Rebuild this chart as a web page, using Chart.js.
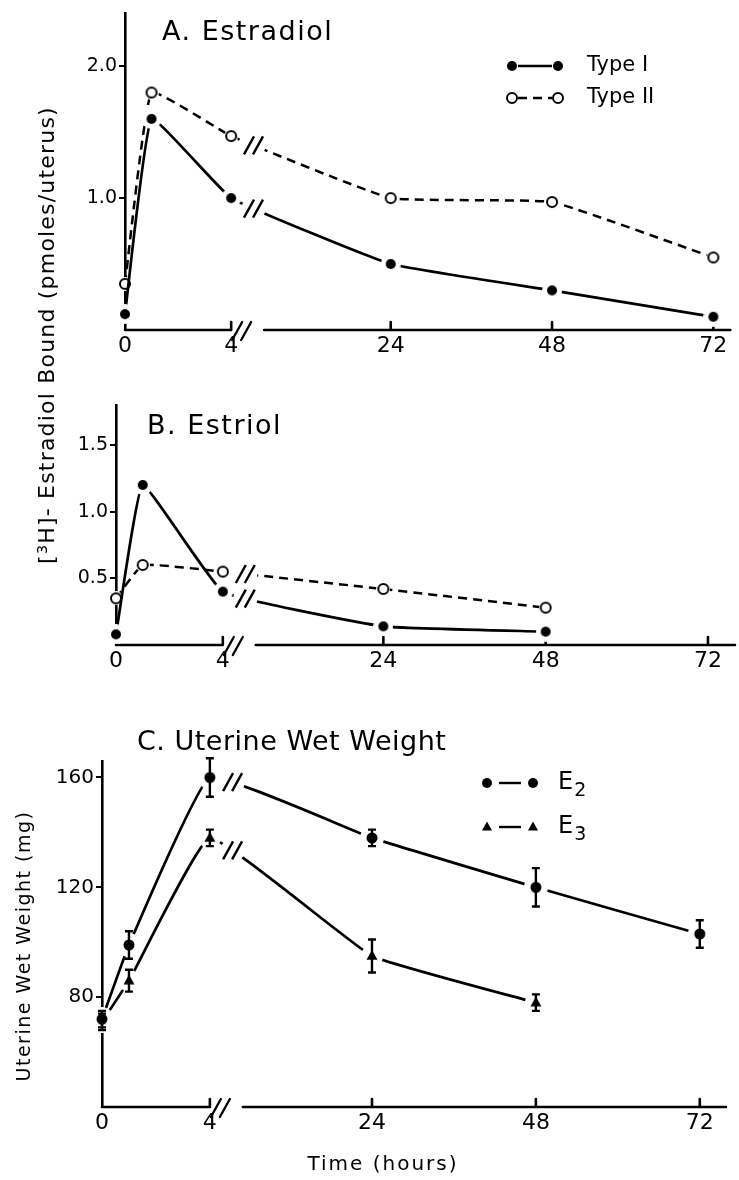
<!DOCTYPE html>
<html lang="en">
<head>
<meta charset="UTF-8" />
<title>[3H]-Estradiol binding and uterine wet weight</title>
<script src="https://cdn.jsdelivr.net/npm/chart.js@4"></script>
<style>
  body { margin: 0; background: #fff; }
  .page {
    position: relative;
    width: 739px;
    height: 1180px;
    overflow: hidden;
    font-family: 'DejaVu Sans', sans-serif;
    color: #000;
  }
  .page canvas { position: absolute; left: 0; }
  .panel-title {
    position: absolute;
    font-size: 27px;
    line-height: 27px;
    letter-spacing: 1.5px;
    white-space: nowrap;
  }
  .axis-title {
    position: absolute;
    white-space: nowrap;
    text-align: center;
    height: 24px;
    line-height: 24px;
  }
  .axis-title.vertical { transform: rotate(-90deg); }
  .axis-title sup { font-size: 0.65em; vertical-align: 0.5em; line-height: 0; }
</style>
</head>
<body>
<div class="page">
  <canvas id="estradiol" width="739" height="370" style="top:0"></canvas>
  <canvas id="estriol" width="739" height="300" style="top:380px"></canvas>
  <canvas id="wetWeight" width="739" height="480" style="top:700px"></canvas>

  <div class="panel-title" style="left:162px; top:17px">A. Estradiol</div>
  <div class="panel-title" style="left:147px; top:411px">B. Estriol</div>
  <div class="panel-title" style="left:137px; top:727px; letter-spacing:0.5px">C. Uterine Wet Weight</div>

  <div class="axis-title vertical" style="left:-193px; top:323px; width:480px; font-size:22px; letter-spacing:1.2px">[<sup>3</sup>H]- Estradiol Bound (pmoles/uterus)</div>
  <div class="axis-title vertical" style="left:-127px; top:934px; width:300px; font-size:19px; letter-spacing:1.5px">Uterine Wet Weight (mg)</div>
  <div class="axis-title" style="left:283px; top:1151px; width:200px; font-size:20px; letter-spacing:2px">Time (hours)</div>
</div>

<script>
  // sampling times, hours after injection
  const HOURS = [0, 1, 4, 24, 48, 72];
  const ESTRIOL_HOURS = [0, 1, 4, 24, 48];
  const HOUR_TICKS = [0, 4, 24, 48, 72];

  // A. bound [3H]-estradiol after estradiol (pmoles/uterus)
  const ESTRADIOL_TYPE_I = [0.12, 1.6, 1.0, 0.5, 0.3, 0.1];
  const ESTRADIOL_TYPE_II = [0.35, 1.8, 1.47, 1.0, 0.97, 0.55];

  // B. bound [3H]-estradiol after estriol
  const ESTRIOL_TYPE_I = [0.08, 1.2, 0.4, 0.14, 0.1];
  const ESTRIOL_TYPE_II = [0.35, 0.6, 0.55, 0.42, 0.28];

  // C. uterine wet weight (mg) and error bar half-lengths
  const WET_E2 = [72, 99, 160, 138, 120, 103];
  const WET_E2_ERR = [3, 5, 7, 3, 7, 5];
  const WET_E3 = [71, 86, 138, 95, 78];
  const WET_E3_ERR = [3, 4, 3, 6, 3];

  const BOUND_TICKS_A = [1.0, 2.0];
  const BOUND_TICKS_B = [0.5, 1.0, 1.5];
  const WEIGHT_TICKS = [80, 120, 160];

  Chart.defaults.font.family = "'DejaVu Sans', sans-serif";
  Chart.defaults.color = '#000';

  // time axis is broken after 4 h: 0-4 h is stretched, then 24-72 h evenly spaced
  const KNOT_HOURS = [0, 4, 24, 72];
  const KNOT_SHARE = [0, 0.1754, 0.439, 0.972];

  function hourToShare(h) {
    let i = 0;
    while (i < KNOT_HOURS.length - 2 && h > KNOT_HOURS[i + 1]) i++;
    const t = (h - KNOT_HOURS[i]) / (KNOT_HOURS[i + 1] - KNOT_HOURS[i]);
    return KNOT_SHARE[i] + t * (KNOT_SHARE[i + 1] - KNOT_SHARE[i]);
  }

  function shareToHour(s) {
    let i = 0;
    while (i < KNOT_SHARE.length - 2 && s > KNOT_SHARE[i + 1]) i++;
    const t = (s - KNOT_SHARE[i]) / (KNOT_SHARE[i + 1] - KNOT_SHARE[i]);
    return KNOT_HOURS[i] + t * (KNOT_HOURS[i + 1] - KNOT_HOURS[i]);
  }

  class BrokenTimeScale extends Chart.LinearScale {
    getPixelForValue(value) {
      return this.left + hourToShare(value) * (this.right - this.left);
    }
    getValueForPixel(pixel) {
      return shareToHour((pixel - this.left) / (this.right - this.left));
    }
  }
  BrokenTimeScale.id = 'brokenTime';
  BrokenTimeScale.defaults = { ...Chart.LinearScale.defaults };
  Chart.register(BrokenTimeScale);

  // markers: black shape on a white disc so the line stops short of it
  function markerImage(kind, r, halo) {
    const c = document.createElement('canvas');
    c.width = c.height = halo * 2;
    const g = c.getContext('2d');
    g.fillStyle = '#fff';
    g.beginPath();
    g.arc(halo, halo, halo, 0, Math.PI * 2);
    g.fill();
    drawMarker(g, kind, halo, halo, r);
    return c;
  }

  function drawMarker(g, kind, x, y, r) {
    g.save();
    g.fillStyle = '#000';
    g.strokeStyle = '#000';
    g.beginPath();
    if (kind === 'triangle') {
      g.moveTo(x, y - r * 1.1);
      g.lineTo(x + r, y + r * 0.7);
      g.lineTo(x - r, y + r * 0.7);
      g.closePath();
      g.fill();
    } else if (kind === 'ring') {
      g.fillStyle = '#fff';
      g.lineWidth = 2;
      g.arc(x, y, r, 0, Math.PI * 2);
      g.fill();
      g.stroke();
    } else {
      g.arc(x, y, r, 0, Math.PI * 2);
      g.fill();
    }
    g.restore();
  }

  const DOT = markerImage('dot', 5, 10);
  const RING = markerImage('ring', 5, 7);
  const BIG_DOT = markerImage('dot', 5.5, 12);
  const TRIANGLE = markerImage('triangle', 5.5, 11);

  const pairs = (xs, ys) => xs.map((x, i) => ({ x, y: ys[i] }));

  // x axis drawn by hand: short 0-4 h piece, "//" break, then the rest
  const brokenAxis = {
    id: 'brokenAxis',
    beforeDatasetsDraw(chart, args, opts) {
      const { ctx, chartArea: a, scales: { x } } = chart;
      const y = a.bottom;
      const x4 = x.getPixelForValue(4);
      ctx.save();
      ctx.strokeStyle = '#000';
      ctx.lineWidth = 2.6;
      ctx.lineCap = 'round';
      ctx.beginPath();
      ctx.moveTo(a.left, y);
      ctx.lineTo(x4, y);
      ctx.moveTo(x4 + 33, y);
      ctx.lineTo(a.right + opts.tail, y);
      HOUR_TICKS.slice(1).forEach(h => {
        const px = x.getPixelForValue(h);
        ctx.moveTo(px, y);
        ctx.lineTo(px, y - 8);
      });
      ctx.stroke();
      ctx.lineWidth = 2.3;
      ctx.beginPath();
      ctx.moveTo(x4 + 1, y + 10);
      ctx.lineTo(x4 + 11, y - 8);
      ctx.moveTo(x4 + 10, y + 10);
      ctx.lineTo(x4 + 20, y - 8);
      ctx.stroke();
      ctx.restore();
    }
  };

  // "//" marks where each curve crosses the time break
  const lineBreaks = {
    id: 'lineBreaks',
    afterDatasetsDraw(chart, args, opts) {
      const { ctx, scales: { x } } = chart;
      const xb = x.getPixelForValue(opts.at);
      chart.data.datasets.forEach((ds, di) => {
        const i = ds.data.findIndex((p, k) => k + 1 < ds.data.length && p.x <= opts.at && ds.data[k + 1].x > opts.at);
        if (i < 0) return;
        const pts = chart.getDatasetMeta(di).data;
        const p0 = pts[i], p3 = pts[i + 1];
        const c1 = { x: p0.cp2x ?? p0.x, y: p0.cp2y ?? p0.y };
        const c2 = { x: p3.cp1x ?? p3.x, y: p3.cp1y ?? p3.y };
        const bez = (t, k) => {
          const u = 1 - t;
          return u * u * u * p0[k] + 3 * u * u * t * c1[k] + 3 * u * t * t * c2[k] + t * t * t * p3[k];
        };
        let lo = 0, hi = 1;
        for (let n = 0; n < 40; n++) {
          const mid = (lo + hi) / 2;
          if (bez(mid, 'x') < xb) lo = mid; else hi = mid;
        }
        const t = (lo + hi) / 2;
        const yb = bez(t, 'y');
        const ang = Math.atan2(bez(t + 0.01, 'y') - bez(t - 0.01, 'y'), bez(t + 0.01, 'x') - bez(t - 0.01, 'x'));
        ctx.save();
        ctx.translate(xb, yb);
        ctx.rotate(ang);
        ctx.strokeStyle = '#fff';
        ctx.lineWidth = 8;
        ctx.beginPath();
        ctx.moveTo(-opts.gap, 0);
        ctx.lineTo(opts.gap, 0);
        ctx.stroke();
        ctx.restore();
        ctx.save();
        ctx.strokeStyle = '#000';
        ctx.lineWidth = 2.4;
        ctx.beginPath();
        [-4.5, 4.5].forEach(dx => {
          ctx.moveTo(xb + dx - 5, yb + 9);
          ctx.lineTo(xb + dx + 5, yb - 9);
        });
        ctx.stroke();
        ctx.restore();
      });
    }
  };

  const errorBars = {
    id: 'errorBars',
    afterDatasetsDraw(chart) {
      const { ctx, scales: { y } } = chart;
      chart.data.datasets.forEach((ds, di) => {
        if (!ds.errors) return;
        chart.getDatasetMeta(di).data.forEach((pt, i) => {
          const v = ds.data[i].y, e = ds.errors[i];
          const top = y.getPixelForValue(v + e), bot = y.getPixelForValue(v - e);
          ctx.save();
          ctx.strokeStyle = '#000';
          ctx.lineWidth = 2.4;
          ctx.beginPath();
          ctx.moveTo(pt.x, top);
          ctx.lineTo(pt.x, bot);
          ctx.moveTo(pt.x - 4, top);
          ctx.lineTo(pt.x + 4, top);
          ctx.moveTo(pt.x - 4, bot);
          ctx.lineTo(pt.x + 4, bot);
          ctx.stroke();
          ctx.restore();
        });
      });
    }
  };

  // label text; a trailing subscript digit is set smaller and lower
  function fillLabel(ctx, text, x, y, size) {
    const last = text.charCodeAt(text.length - 1);
    ctx.font = size + "px 'DejaVu Sans'";
    if (last < 0x2080 || last > 0x2089) {
      ctx.fillText(text, x, y);
      return;
    }
    const head = text.slice(0, -1);
    ctx.fillText(head, x, y);
    const w = ctx.measureText(head).width;
    ctx.font = Math.round(size * 0.8) + "px 'DejaVu Sans'";
    ctx.fillText(String(last - 0x2080), x + w + 1, y + size * 0.35);
  }

  // key drawn inside the plot: marker, line sample, marker, label
  const sampleLegend = {
    id: 'sampleLegend',
    afterDraw(chart, args, opts) {
      const ctx = chart.ctx;
      opts.rows.forEach((row, di) => {
        const ds = chart.data.datasets[di];
        ctx.save();
        ctx.strokeStyle = '#000';
        ctx.lineWidth = 2.4;
        ctx.setLineDash(ds.borderDash || []);
        ctx.beginPath();
        ctx.moveTo(opts.x0 + opts.gap, row.y);
        ctx.lineTo(opts.x1 - opts.gap, row.y);
        ctx.stroke();
        ctx.restore();
        drawMarker(ctx, row.marker, opts.x0, row.y, 5);
        drawMarker(ctx, row.marker, opts.x1, row.y, 5);
        ctx.save();
        ctx.fillStyle = '#000';
        ctx.textBaseline = 'middle';
        fillLabel(ctx, ds.label, opts.textX, row.y, opts.size);
        ctx.restore();
      });
    }
  };

  function panelOptions(p) {
    return {
      responsive: false,
      animation: false,
      events: [],
      layout: { padding: p.padding },
      scales: {
        x: {
          type: 'brokenTime',
          min: 0,
          max: 72,
          grid: { display: false, drawTicks: false },
          border: { display: false },
          afterBuildTicks: s => { s.ticks = HOUR_TICKS.map(v => ({ value: v })); },
          afterFit: s => { s.height = 35; },
          ticks: { autoSkip: false, maxRotation: 0, padding: 3, font: { size: 22 }, callback: v => String(v) }
        },
        y: {
          min: p.yMin,
          max: p.yMax,
          afterBuildTicks: s => { s.ticks = p.yTicks.map(v => ({ value: v })); },
          afterFit: s => { s.width = p.yWidth; },
          grid: { drawOnChartArea: false, color: '#000', lineWidth: 2, tickLength: 6 },
          border: { color: '#000', width: 2.6 },
          ticks: { padding: 2, font: { size: p.yFont }, callback: v => p.decimals ? v.toFixed(1) : String(v) }
        }
      },
      plugins: {
        legend: { display: false },
        tooltip: { enabled: false },
        brokenAxis: { tail: p.tail },
        lineBreaks: { at: 6.8, gap: 12 },
        sampleLegend: p.legend
      }
    };
  }

  const lineStyle = { borderColor: '#000', borderWidth: 2.7, tension: 0.1, clip: false, pointRadius: 6 };

  new Chart(document.getElementById('estradiol'), {
    type: 'line',
    data: {
      datasets: [
        { ...lineStyle, label: 'Type I', data: pairs(HOURS, ESTRADIOL_TYPE_I), pointStyle: DOT },
        { ...lineStyle, label: 'Type II', data: pairs(HOURS, ESTRADIOL_TYPE_II), pointStyle: RING, borderWidth: 2.5, borderDash: [9, 6] }
      ]
    },
    options: panelOptions({
      yMin: 0, yMax: 2.4, yTicks: BOUND_TICKS_A, yWidth: 45, yFont: 19, decimals: true,
      padding: { left: 80, right: 4, top: 11, bottom: 5 }, tail: 0,
      legend: {
        x0: 512, x1: 558, gap: 6, textX: 587, size: 21,
        rows: [{ y: 66, marker: 'dot' }, { y: 98, marker: 'ring' }]
      }
    }),
    plugins: [brokenAxis, lineBreaks, sampleLegend]
  });

  new Chart(document.getElementById('estriol'), {
    type: 'line',
    data: {
      datasets: [
        { ...lineStyle, label: 'Type I', data: pairs(ESTRIOL_HOURS, ESTRIOL_TYPE_I), pointStyle: DOT },
        { ...lineStyle, label: 'Type II', data: pairs(ESTRIOL_HOURS, ESTRIOL_TYPE_II), pointStyle: RING, borderWidth: 2.5, borderDash: [9, 6] }
      ]
    },
    options: panelOptions({
      yMin: 0, yMax: 1.8, yTicks: BOUND_TICKS_B, yWidth: 45, yFont: 19, decimals: true,
      padding: { left: 71, right: 14, top: 25, bottom: 0 }, tail: 10,
      legend: { rows: [] }
    }),
    plugins: [brokenAxis, lineBreaks]
  });

  new Chart(document.getElementById('wetWeight'), {
    type: 'line',
    data: {
      datasets: [
        { ...lineStyle, label: 'E₂', data: pairs(HOURS, WET_E2), errors: WET_E2_ERR, pointStyle: BIG_DOT },
        { ...lineStyle, label: 'E₃', data: pairs(ESTRIOL_HOURS, WET_E3), errors: WET_E3_ERR, pointStyle: TRIANGLE }
      ]
    },
    options: panelOptions({
      yMin: 40, yMax: 166, yTicks: WEIGHT_TICKS, yWidth: 50, yFont: 20, decimals: false,
      padding: { left: 52, right: 22, top: 61, bottom: 38 }, tail: 9,
      legend: {
        x0: 487, x1: 533, gap: 12, textX: 558, size: 24,
        rows: [{ y: 83, marker: 'dot' }, { y: 127, marker: 'triangle' }]
      }
    }),
    plugins: [brokenAxis, lineBreaks, errorBars, sampleLegend]
  });
</script>
</body>
</html>
